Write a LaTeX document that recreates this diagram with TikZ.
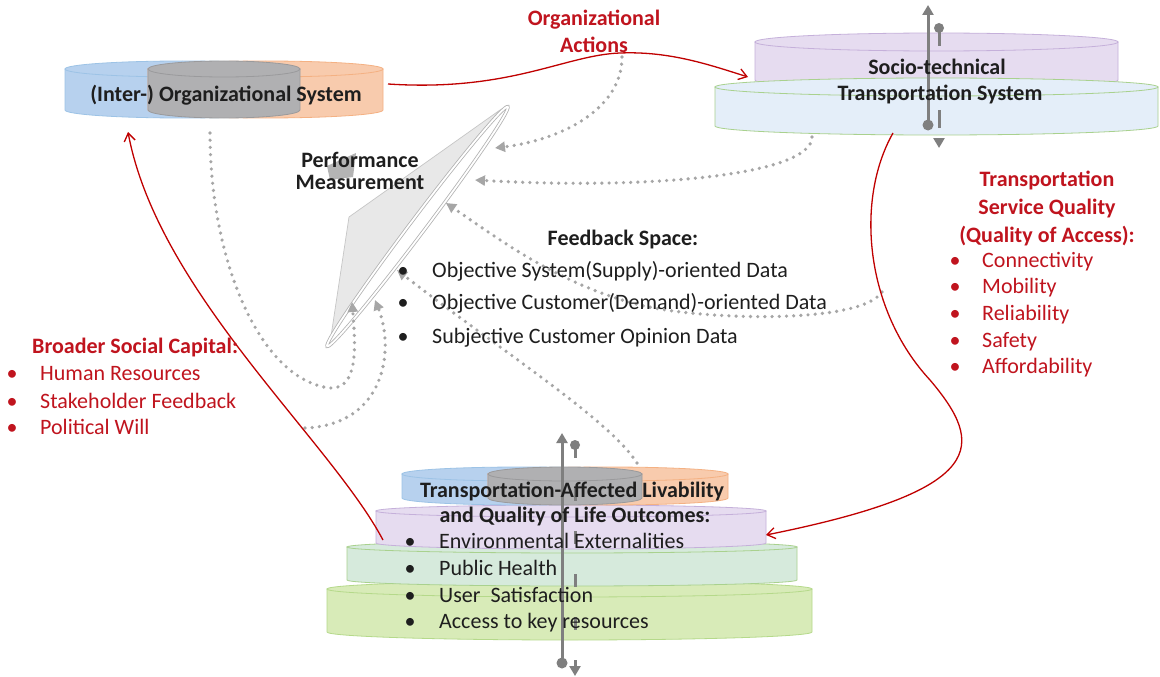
\documentclass[tikz,border=0pt]{standalone}
\usepackage{fontspec}
\setmainfont{Carlito}
\usetikzlibrary{arrows.meta}
\definecolor{redc}{HTML}{C00000}
\definecolor{redtx}{HTML}{C0141E}
\definecolor{dotgray}{HTML}{A6A6A6}
\definecolor{axisgray}{HTML}{7F7F7F}
\definecolor{txtc}{HTML}{1E1E1E}
\definecolor{orgblue}{HTML}{B7D1EE}
\definecolor{orgblueE}{HTML}{9DC3E6}
\definecolor{orgorange}{HTML}{F8CBAD}
\definecolor{orgorangeE}{HTML}{F4B183}
\definecolor{orggray}{HTML}{B0B0B2}
\definecolor{orggrayE}{HTML}{9A9A9C}
\definecolor{purp}{HTML}{E6DCF0}
\definecolor{purpE}{HTML}{C5B0DA}
\definecolor{lblue}{HTML}{E4EEF9}
\definecolor{greenE}{HTML}{A9D18E}
\definecolor{lime}{HTML}{D8EBB8}
\definecolor{limeE}{HTML}{B5D98A}
\definecolor{teal}{HTML}{D6EADC}
\definecolor{pmfill}{HTML}{E8E8E8}
\definecolor{pmdark}{HTML}{B4B4B4}
\newcommand{\mydisk}[7]{%
  \pgfmathsetmacro{\dcx}{(#1+#2)/2}%
  \pgfmathsetmacro{\drx}{(#2-#1)/2}%
  \filldraw[fill=#6, draw=#7, line width=0.8pt] (#1,#3) -- (#1,#4)
    arc[start angle=180, end angle=360, x radius=\drx pt, y radius=#5 pt] -- (#2,#3) -- cycle;
  \filldraw[fill=#6, draw=#7, line width=0.8pt] (\dcx,#3) ellipse[x radius=\drx pt, y radius=#5 pt];
}
\begin{document}
\begin{tikzpicture}[x=1pt, y=-1pt,
  basetxt/.style={inner sep=0pt, font=\fontsize{22}{26}\selectfont},
  blk/.style={basetxt, text=txtc},
  blkb/.style={basetxt, text=txtc, font=\fontsize{22}{26}\selectfont\bfseries},
  redn/.style={basetxt, text=redtx},
  redb/.style={basetxt, text=redtx, font=\fontsize{22}{26}\selectfont\bfseries},
  redarrow/.style={draw=redc, line width=1.3pt, -{Straight Barb[length=8pt,width=11pt]}},
  dotarrow/.style={draw=dotgray, line width=3.6pt, line cap=round, dash pattern=on 0pt off 7.2pt,
    -{Triangle[length=10pt,width=10pt]}},
  vax/.style={draw=axisgray, line width=3pt},
  vtip/.style={-{Triangle[length=10pt,width=11pt]}}
]
\useasboundingbox (0,0) rectangle (1160,677);
\fill[white] (0,0) rectangle (1160,677);

% ---- (Inter-) Organizational System disks
\mydisk{65}{300}{69}{110}{8}{orgblue}{orgblueE}
\mydisk{148}{383}{69}{110}{8}{orgorange}{orgorangeE}
\mydisk{148}{300}{69}{110}{8}{orggray}{orggrayE}

% ---- Socio-technical system disks
\mydisk{755}{1118}{42}{80}{9}{purp}{purpE}
\mydisk{715}{1158}{87}{126}{9}{lblue}{greenE}

% ---- bottom stack
\mydisk{327}{812}{589}{632}{8}{lime}{limeE}
\mydisk{347}{797}{547}{580}{6}{teal}{greenE}
\mydisk{376}{766}{511}{543}{6}{purp}{purpE}
\mydisk{402}{642}{474}{498}{7}{orgblue}{orgblueE}
\mydisk{488}{728}{474}{498}{7}{orgorange}{orgorangeE}
\mydisk{488}{642}{474}{498}{7}{orggray}{orggrayE}

% ---- Performance measurement lens
\filldraw[fill=pmfill, draw=gray!45, line width=0.7pt] (330,343) -- (349,217) -- (500,110) -- (411,221) -- cycle;
\fill[pmdark] (327,166) -- (356,153) -- (353,177) -- (330,180) -- cycle;
\filldraw[fill=white, draw=gray!60, line width=0.8pt, double=white, double distance=1.8pt]
  (417.5,226.5) ellipse[x radius=150pt, y radius=7.5pt, rotate=53];

% ---- named coordinates
\coordinate (orgR) at (388,84);
\coordinate (orgB) at (128,132);
\coordinate (orgD) at (210,133);
\coordinate (socL) at (748,77);
\coordinate (socB) at (893,133);
\coordinate (socD) at (812,137);
\coordinate (actD) at (622,57);
\coordinate (fbR) at (882,292);
\coordinate (lifeR) at (766,535);
\coordinate (lifeL) at (383,540);
\coordinate (lifeT) at (637,463);
\coordinate (capR) at (305,428);
\coordinate (pm1) at (495,148);
\coordinate (pm2) at (475,180);
\coordinate (pm3) at (446,203);
\coordinate (pm4) at (397,270);
\coordinate (pm5) at (375,300);
\coordinate (pm6) at (352,302);

% ---- dotted feedback arrows
\draw[dotarrow] (actD) .. controls (622,110) and (560,140) .. (pm1);
\draw[dotarrow] (socD) .. controls (812,175) and (650,190) .. (pm2);
\draw[dotarrow] (fbR) .. controls (860,325) and (700,320) .. (640,305)
  .. controls (560,285) and (500,240) .. (pm3);
\draw[dotarrow] (lifeT) .. controls (610,420) and (500,350) .. (pm4);
\draw[dotarrow] (capR) .. controls (385,425) and (395,350) .. (pm5);
\draw[dotarrow] (orgD) .. controls (210,260) and (260,380) .. (330,388)
  .. controls (360,390) and (355,340) .. (pm6);

% ---- red arrows
\draw[redarrow] (orgR) .. controls (510,92) and (565,55) .. (620,53)
  .. controls (670,51) and (710,65) .. (socL);
\draw[redarrow] (socB) .. controls (855,200) and (865,310) .. (930,380)
  .. controls (985,445) and (990,490) .. (lifeR);
\draw[redarrow] (lifeL) .. controls (330,440) and (158,292) .. (orgB);

% ---- vertical axes (socio-technical)
\draw[vax, vtip] (928,125) -- (928,5);
\fill[axisgray] (928,125) circle (5.5pt);
\fill[axisgray] (939,28) circle (5pt);
\draw[vax, vtip, dash pattern=on 18pt off 64pt] (939,28) -- (939,148);

% ---- vertical axes (bottom stack)
\draw[vax, vtip] (562,663) -- (562,433);
\fill[axisgray] (562,663) circle (5.5pt);
\fill[axisgray] (575,445) circle (5pt);
\draw[vax, vtip, dash pattern=on 13pt off 30pt] (575,445) -- (575,676);

% ---- texts
\node[blkb, anchor=base] (orgT) at (226,102) {(Inter-) Organizational System};
\node[blkb, anchor=base] (socT1) at (937,75) {Socio-technical};
\node[blkb, anchor=base] (socT2) at (940,100) {Transportation System};
\node[redb, anchor=base] (actT1) at (594,26) {Organizational};
\node[redb, anchor=base] (actT2) at (594,53) {Actions};
\node[blkb, anchor=base] (pmT1) at (360,167) {Performance};
\node[blkb, anchor=base] (pmT2) at (360,189) {Measurement};

\node[blkb, anchor=base] (fbT) at (623,245) {Feedback Space:};
\node[blk, anchor=base] at (403,277) {•};
\node[blk, anchor=base west] (fb1) at (432,277) {Objective System(Supply)-oriented Data};
\node[blk, anchor=base] at (403,309) {•};
\node[blk, anchor=base west] (fb2) at (432,309) {Objective Customer(Demand)-oriented Data};
\node[blk, anchor=base] at (403,343) {•};
\node[blk, anchor=base west] (fb3) at (432,343) {Subjective Customer Opinion Data};

\node[redb, anchor=base west] (capT) at (32,353) {Broader Social Capital:};
\node[redn, anchor=base] at (12,380) {•};
\node[redn, anchor=base west] (cap1) at (40,380) {Human Resources};
\node[redn, anchor=base] at (12,408) {•};
\node[redn, anchor=base west] (cap2) at (40,408) {Stakeholder Feedback};
\node[redn, anchor=base] at (12,434) {•};
\node[redn, anchor=base west] (cap3) at (40,434) {Political Will};

\node[redb, anchor=base] (sqT1) at (1047,186) {Transportation};
\node[redb, anchor=base] (sqT2) at (1047,214) {Service Quality};
\node[redb, anchor=base] (sqT3) at (1047,242) {(Quality of Access):};
\node[redn, anchor=base] at (955,267) {•};
\node[redn, anchor=base west] (sq1) at (982,267) {Connectivity};
\node[redn, anchor=base] at (955,293) {•};
\node[redn, anchor=base west] (sq2) at (982,293) {Mobility};
\node[redn, anchor=base] at (955,320) {•};
\node[redn, anchor=base west] (sq3) at (982,320) {Reliability};
\node[redn, anchor=base] at (955,347) {•};
\node[redn, anchor=base west] (sq4) at (982,347) {Safety};
\node[redn, anchor=base] at (955,373) {•};
\node[redn, anchor=base west] (sq5) at (982,373) {Affordability};

\node[blkb, anchor=base] (lifeT1) at (572,497) {Transportation-Affected Livability};
\node[blkb, anchor=base] (lifeT2) at (575,522) {and Quality of Life Outcomes:};
\node[blk, anchor=base] at (410,548) {•};
\node[blk, anchor=base west] (life1) at (439,548) {Environmental Externalities};
\node[blk, anchor=base] at (410,575) {•};
\node[blk, anchor=base west] (life2) at (439,575) {Public Health};
\node[blk, anchor=base] at (410,602) {•};
\node[blk, anchor=base west] (life3) at (439,602) {User\ \ Satisfaction};
\node[blk, anchor=base] at (410,628) {•};
\node[blk, anchor=base west] (life4) at (439,628) {Access to key resources};
\end{tikzpicture}
\end{document}
